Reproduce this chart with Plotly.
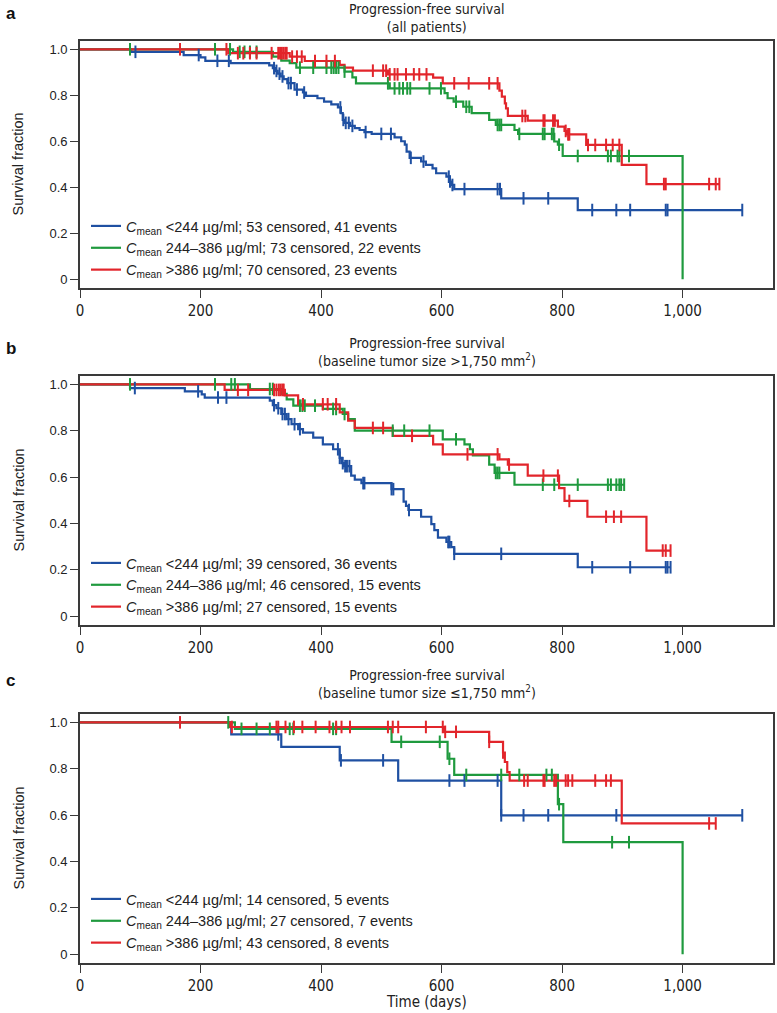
import plotly.graph_objects as go
from bisect import bisect_right

W, H = 777, 1013

BLUE = "#1f50a2"
GREEN = "#1f9a3e"
RED = "#e2252b"

X_TICKS = [0, 200, 400, 600, 800, 1000]
X_TICKTEXT = ["0", "200", "400", "600", "800", "1,000"]
Y_TICKS = [0, 0.2, 0.4, 0.6, 0.8, 1.0]
Y_TICKTEXT = ["0", "0.2", "0.4", "0.6", "0.8", "1.0"]

PANEL_LETTERS = ["a", "b", "c"]
PANEL_TITLES = [
    "Progression-free survival<br>(all patients)",
    "Progression-free survival<br>(baseline tumor size >1,750 mm<sup>2</sup>)",
    "Progression-free survival<br>(baseline tumor size ≤1,750 mm<sup>2</sup>)",
]
GROUP_LABELS = ["&lt;244 µg/ml", "244–386 µg/ml", ">386 µg/ml"]
CENSORED_COUNTS = [[53, 73, 70], [39, 46, 27], [14, 27, 43]]
EVENT_COUNTS = [[41, 22, 23], [36, 15, 15], [5, 7, 8]]

# ---------------- Panel a : all patients ----------------
A_BLUE_T = [85, 172, 200, 208, 250, 314, 320, 324, 328, 333, 338, 344, 356, 370, 375, 394, 405, 417,
            428, 433, 436, 439, 448, 456, 464, 472, 484, 522, 533, 539, 542, 547, 566, 574, 585, 591,
            608, 613, 616, 621, 699, 826]
A_BLUE_S = [0.989, 0.975, 0.965, 0.950, 0.940, 0.930, 0.918, 0.906, 0.894, 0.882, 0.870, 0.853, 0.825,
            0.812, 0.797, 0.787, 0.772, 0.760, 0.747, 0.722, 0.693, 0.680, 0.667, 0.657, 0.649, 0.640,
            0.632, 0.617, 0.600, 0.585, 0.555, 0.528, 0.512, 0.497, 0.482, 0.461, 0.446, 0.425, 0.410,
            0.392, 0.352, 0.301]
A_BLUE_C = [92, 197, 228, 247, 322, 326, 331, 336, 346, 350, 360, 372, 432, 437, 441, 446, 452, 474,
            500, 516, 549, 570, 612, 614, 618, 638, 693, 697, 736, 777, 850, 890, 913, 972, 975, 1099]

A_GREEN_T = [254, 320, 334, 348, 359, 439, 452, 458, 514, 605, 610, 620, 636, 650, 679, 690, 721, 727,
             787, 793, 801, 1000]
A_GREEN_S = [0.989, 0.968, 0.951, 0.940, 0.920, 0.903, 0.878, 0.852, 0.830, 0.809, 0.787, 0.772, 0.750,
             0.722, 0.693, 0.671, 0.649, 0.632, 0.599, 0.585, 0.536, 0.0]
A_GREEN_C = [83, 224, 249, 265, 273, 282, 293, 365, 387, 409, 417, 421, 425, 429, 439, 511, 522, 530,
             536, 543, 548, 580, 599, 624, 641, 646, 693, 696, 699, 729, 768, 771, 783, 786, 795, 826,
             876, 881, 892, 895, 911]

A_RED_T = [246, 348, 373, 431, 439, 453, 511, 586, 602, 696, 700, 705, 707, 710, 743, 793, 804, 808,
           840, 899, 940]
A_RED_S = [0.983, 0.968, 0.949, 0.932, 0.920, 0.907, 0.891, 0.877, 0.852, 0.820, 0.794, 0.765, 0.743,
           0.710, 0.690, 0.664, 0.645, 0.630, 0.584, 0.497, 0.414]
A_RED_C = [166, 243, 262, 271, 282, 293, 318, 329, 332, 335, 338, 341, 343, 352, 360, 368, 390, 409,
           423, 486, 503, 508, 514, 522, 527, 541, 554, 563, 575, 621, 645, 679, 693, 734, 739, 769,
           771, 785, 788, 806, 810, 812, 843, 855, 873, 884, 895, 969, 972, 1044, 1055, 1061]

# ---------------- Panel b : baseline tumor size > 1,750 ----------------
B_BLUE_T = [83, 174, 202, 207, 315, 320, 326, 334, 343, 351, 362, 370, 387, 403, 420, 431, 434, 438,
            450, 456, 467, 517, 537, 541, 545, 566, 583, 588, 594, 608, 616, 621, 826]
B_BLUE_S = [0.984, 0.970, 0.957, 0.943, 0.930, 0.910, 0.897, 0.872, 0.850, 0.828, 0.807, 0.792, 0.770,
            0.741, 0.720, 0.683, 0.660, 0.647, 0.606, 0.589, 0.574, 0.548, 0.494, 0.476, 0.458, 0.429,
            0.397, 0.371, 0.339, 0.320, 0.298, 0.269, 0.211]
B_BLUE_C = [91, 196, 229, 243, 322, 329, 336, 340, 346, 356, 365, 428, 431, 436, 440, 443, 447, 470,
            472, 517, 520, 546, 611, 613, 621, 699, 850, 913, 972, 975, 980]

B_GREEN_T = [282, 334, 343, 354, 403, 436, 445, 456, 602, 638, 647, 652, 679, 688, 721]
B_GREEN_S = [0.980, 0.959, 0.935, 0.908, 0.894, 0.872, 0.850, 0.800, 0.763, 0.741, 0.720, 0.693, 0.654,
             0.618, 0.567]
B_GREEN_C = [83, 224, 251, 257, 315, 320, 365, 369, 373, 390, 420, 425, 439, 519, 538, 580, 624, 690,
             693, 696, 768, 787, 826, 876, 881, 890, 895, 898, 903]

B_RED_T = [240, 340, 362, 431, 445, 456, 519, 586, 602, 696, 710, 743, 795, 804, 842, 940]
B_RED_S = [0.976, 0.952, 0.914, 0.879, 0.843, 0.812, 0.778, 0.741, 0.698, 0.676, 0.654, 0.606, 0.552,
           0.497, 0.429, 0.283]
B_RED_C = [262, 279, 322, 326, 330, 333, 336, 338, 370, 403, 411, 425, 486, 503, 551, 643, 693, 712,
           769, 793, 812, 873, 886, 898, 967, 972, 980]

# ---------------- Panel c : baseline tumor size <= 1,750 ----------------
C_BLUE_T = [251, 334, 431, 528, 699]
C_BLUE_S = [0.948, 0.894, 0.836, 0.749, 0.599]
C_BLUE_C = [329, 433, 503, 613, 638, 693, 699, 736, 777, 890, 1099]

C_GREEN_T = [257, 517, 610, 621, 793, 802, 1000]
C_GREEN_S = [0.972, 0.916, 0.843, 0.773, 0.647, 0.483, 0.0]
C_GREEN_C = [246, 268, 293, 315, 348, 354, 420, 425, 533, 597, 613, 641, 699, 729, 774, 783, 795,
             883, 911]

C_RED_T = [249, 604, 679, 702, 705, 709, 713, 899]
C_RED_S = [0.980, 0.959, 0.916, 0.870, 0.829, 0.785, 0.749, 0.564]
C_RED_C = [166, 252, 326, 329, 341, 355, 369, 391, 414, 425, 434, 448, 511, 519, 528, 574, 602, 606,
           624, 679, 702, 737, 743, 769, 771, 787, 790, 806, 810, 817, 855, 873, 881, 1044, 1055]

PANELS = [
    [(A_BLUE_T, A_BLUE_S, A_BLUE_C), (A_GREEN_T, A_GREEN_S, A_GREEN_C), (A_RED_T, A_RED_S, A_RED_C)],
    [(B_BLUE_T, B_BLUE_S, B_BLUE_C), (B_GREEN_T, B_GREEN_S, B_GREEN_C), (B_RED_T, B_RED_S, B_RED_C)],
    [(C_BLUE_T, C_BLUE_S, C_BLUE_C), (C_GREEN_T, C_GREEN_S, C_GREEN_C), (C_RED_T, C_RED_S, C_RED_C)],
]
COLORS = [BLUE, GREEN, RED]


def step_line(times, surv, censors):
    end = max(times + censors)
    xs = [0] + list(times) + [end]
    ys = [1.0] + list(surv) + [surv[-1]]
    return xs, ys


def censor_y(times, surv, censors):
    out = []
    for c in censors:
        i = bisect_right(times, c)
        out.append(1.0 if i == 0 else surv[i - 1])
    return out


def pxx(p):
    return p / W


def pyy(p):
    return 1 - p / H


# page-pixel layout of the three panels
BOX = [(41, 288), (376, 625), (714, 963)]
LEG_TOP = [210, 547, 883]
TITLE_Y = [18, 352, 684]
X_DOM = [pxx(80), pxx(773)]

FONT = "Liberation Sans, Arial, sans-serif"
NARROW = "DejaVu Sans Condensed, Liberation Sans, sans-serif"

fig = go.Figure()
layout = dict(
    width=W, height=H,
    margin=dict(l=0, r=0, t=0, b=0, autoexpand=False),
    paper_bgcolor="white", plot_bgcolor="white",
    showlegend=True,
)
annotations = []

for p in range(3):
    sfx = "" if p == 0 else str(p + 1)
    xa, ya = "x" + sfx, "y" + sfx
    leg = "legend" + sfx
    for g in range(3):
        t, s, c = PANELS[p][g]
        xs, ys = step_line(t, s, c)
        name = ("<i>C</i><sub>mean</sub> " + GROUP_LABELS[g] + "; "
                + f"{CENSORED_COUNTS[p][g]} censored, {EVENT_COUNTS[p][g]} events")
        fig.add_trace(go.Scatter(
            x=xs, y=ys, mode="lines", line=dict(shape="hv", color=COLORS[g], width=2.2),
            name=name, legend=leg, xaxis=xa, yaxis=ya, hoverinfo="skip"))
    for g in range(3):
        t, s, c = PANELS[p][g]
        fig.add_trace(go.Scatter(
            x=c, y=censor_y(t, s, c), mode="markers",
            marker=dict(symbol="line-ns-open", size=9, color=COLORS[g],
                        line=dict(width=2, color=COLORS[g])),
            showlegend=False, xaxis=xa, yaxis=ya, hoverinfo="skip"))

    top, bot = BOX[p]
    layout["xaxis" + sfx] = dict(
        domain=X_DOM, anchor=ya, range=[0, 1150], showgrid=False, zeroline=False,
        automargin=False,
        showline=True, mirror=True, linecolor="#3a3a3a", linewidth=1.6,
        ticks="outside", ticklen=8, tickwidth=1.3, tickcolor="#3a3a3a",
        tickvals=X_TICKS, ticktext=X_TICKTEXT,
        tickfont=dict(family=NARROW, size=15, color="#222"),
    )
    layout["yaxis" + sfx] = dict(
        domain=[pyy(bot), pyy(top)], anchor=xa, range=[-0.038, 1.036], showgrid=False,
        automargin=False,
        zeroline=False, showline=True, mirror=True, linecolor="#3a3a3a", linewidth=1.6,
        ticks="outside", ticklen=8, tickwidth=1.3, tickcolor="#3a3a3a",
        tickvals=Y_TICKS, ticktext=Y_TICKTEXT,
        tickfont=dict(family=FONT, size=13, color="#222"),
    )
    layout[leg] = dict(
        x=pxx(86), y=pyy(LEG_TOP[p]), xanchor="left", yanchor="top",
        bgcolor="rgba(0,0,0,0)", borderwidth=0,
        font=dict(family=FONT, size=14.5, color="#222"),
        tracegroupgap=0, itemwidth=30,
    )
    annotations.append(dict(
        x=pxx(426.5), y=pyy(TITLE_Y[p]), xref="paper", yref="paper",
        text=PANEL_TITLES[p], showarrow=False, xanchor="center", yanchor="middle",
        font=dict(family=NARROW, size=14, color="#222")))
    annotations.append(dict(
        x=pxx(4), y=pyy(TITLE_Y[p] - 4), xref="paper", yref="paper",
        text="<b>" + PANEL_LETTERS[p] + "</b>", showarrow=False, xanchor="left",
        yanchor="middle", font=dict(family=FONT, size=17, color="#111")))
    annotations.append(dict(
        x=pxx(18), y=pyy((top + bot) / 2), xref="paper", yref="paper",
        text="Survival fraction", textangle=-90, showarrow=False,
        xanchor="center", yanchor="middle",
        font=dict(family=FONT, size=14.5, color="#222")))

annotations.append(dict(
    x=pxx(426.5), y=pyy(1002), xref="paper", yref="paper", text="Time (days)",
    showarrow=False, xanchor="center", yanchor="middle",
    font=dict(family=NARROW, size=15, color="#222")))

layout["annotations"] = annotations
fig.update_layout(**layout)
# remove the browser's default 8px page margin so the figure sits at the window corner
fig.write_html("out.html", config={"displayModeBar": False},
               post_script="document.body.style.margin='0';")
